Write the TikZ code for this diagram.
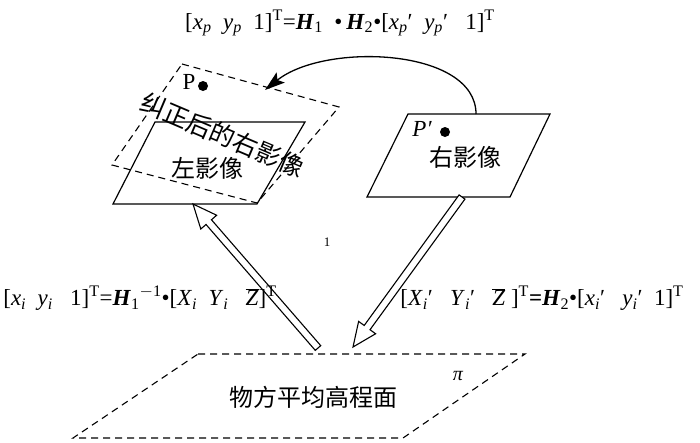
\documentclass[tikz,border=0pt]{standalone}
\usepackage{fontspec}
\setmainfont{Liberation Serif}
\newfontfamily\cjk{Noto Sans CJK SC}
\usetikzlibrary{calc,arrows.meta}
\newcommand{\vi}[1]{\textit{#1}}
\newcommand{\vb}[1]{\textbf{\textit{#1}}}
\newcommand{\sbs}[1]{\textsubscript{#1}}
\newcommand{\sps}[1]{\textsuperscript{#1}}
\newcommand{\zbar}{\ensuremath{\overline{\mbox{\textit{Z}}}}}
\newcommand{\hollowarr}[2]{%
  \coordinate (#1#2b) at ($(#2)!24pt!(#1)$);
  \draw[hollow] ($(#1)!3.6pt!90:(#2)$) -- ($(#1#2b)!3.6pt!-90:(#1)$) --
    ($(#1#2b)!10.5pt!-90:(#1)$) -- (#2) -- ($(#1#2b)!10.5pt!90:(#1)$) --
    ($(#1#2b)!3.6pt!90:(#1)$) -- ($(#1)!3.6pt!-90:(#2)$) -- cycle;}
\begin{document}
\begin{tikzpicture}[x=1pt,y=-1pt,
  solidbox/.style={draw,line width=1.2pt,line join=miter},
  dashbox/.style={draw,line width=1.1pt,dash pattern=on 7pt off 5pt},
  hollow/.style={draw,line width=1.1pt,fill=white,line join=miter},
  cjktext/.style={font=\cjk\fontsize{24}{26}\selectfont,inner sep=0pt},
  formula/.style={font=\fontsize{23}{26}\selectfont,inner sep=0pt},
  dot/.style={fill=black}]
\useasboundingbox (0,0) rectangle (700,442);
% left image
\coordinate (L1) at (155,122); \coordinate (L2) at (305,122);
\coordinate (L3) at (257,204); \coordinate (L4) at (113,204);
\draw[solidbox] (L1) -- (L2) -- (L3) -- (L4) -- cycle;
% rectified right image (dashed)
\coordinate (D1) at (182,64); \coordinate (D2) at (339,107);
\coordinate (D3) at (257,203); \coordinate (D4) at (112,165);
\draw[dashbox] (D1) -- (D2) -- (D3) -- (D4) -- cycle;
% right image
\coordinate (R1) at (408,114); \coordinate (R2) at (550,114);
\coordinate (R3) at (510,197); \coordinate (R4) at (367,197);
\draw[solidbox] (R1) -- (R2) -- (R3) -- (R4) -- cycle;
% object plane
\coordinate (G1) at (198,354); \coordinate (G2) at (525,354);
\coordinate (G3) at (403,438); \coordinate (G4) at (73,438);
\draw[dashbox] (G1) -- (G2) -- (G3) -- (G4) -- cycle;
% arrows
\coordinate (ltail) at (318,348); \coordinate (ltip) at (193,204);
\hollowarr{ltail}{ltip}
\coordinate (rtail) at (462,197); \coordinate (rtip) at (353,347);
\hollowarr{rtail}{rtip}
\coordinate (ctail) at (476,114); \coordinate (ctip) at (265,90);
\draw[line width=1.3pt,-{Stealth[length=20pt,width=13pt,inset=4pt]}] (ctail) .. controls (476,48) and (325,42) .. (ctip);
% texts
\node[cjktext] (lefttxt) at (207,168) {左影像};
\node[cjktext] (righttxt) at (465,157) {右影像};
\node[cjktext] (planetxt) at (313,397) {物方平均高程面};
\node[cjktext,font=\cjk\fontsize{25}{26}\selectfont,rotate=-23] (rectxt) at (223,135) {纠正后的右影像};
\node[font=\fontsize{20}{22}\selectfont\itshape,inner sep=0pt] (pi) at (458,376) {π};
\node[font=\fontsize{23}{24}\selectfont,inner sep=0pt] (ptxt) at (189,82) {P};
\fill[dot] (203,86) circle (5);
\node[font=\fontsize{23}{24}\selectfont\itshape,inner sep=0pt] (pptxt) at (422,129) {P′};
\fill[dot] (445,132) circle (5);
\node[font=\fontsize{13}{14}\selectfont,inner sep=0pt] (one) at (327,242) {1};
% formulas
\node[formula] (ftop) at (340,23) {[\vi{x}\sbs{\vi{p}}\ \ \vi{y}\sbs{\vi{p}}\ \ 1]\sps{T}=\vb{H}\sbs{1}\ \ •\,\vb{H}\sbs{2}•[\vi{x}\sbs{\vi{p}}′\ \ \vi{y}\sbs{\vi{p}}′\ \ \ 1]\sps{T}};
\node[formula] (fleft) at (140,298) {[\vi{x}\sbs{\vi{i}}\ \ \vi{y}\sbs{\vi{i}}\ \ \ 1]\sps{T}=\vb{H}\sbs{1}\sps{$-$1}•[\vi{X}\sbs{\vi{i}}\ \ \vi{Y}\sbs{\vi{i}}\ \ \ \zbar]\sps{T}};
\node[formula] (fright) at (542,298) {[\vi{X}\sbs{\vi{i}}′\ \ \ \vi{Y}\sbs{\vi{i}}′\ \ \ \zbar\ ]\sps{T}\textbf{=}\vb{H}\sbs{2}•[\vi{x}\sbs{\vi{i}}′\ \ \ \vi{y}\sbs{\vi{i}}′\ \ 1]\sps{T}};
\end{tikzpicture}
\end{document}
